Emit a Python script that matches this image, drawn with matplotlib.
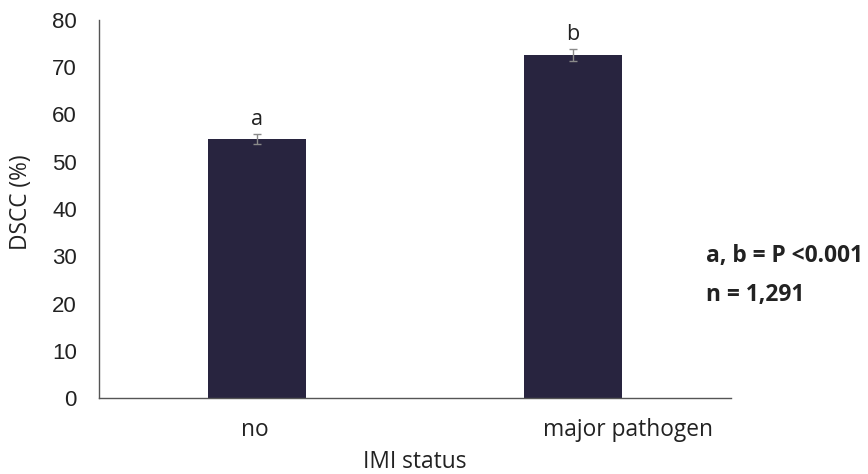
import matplotlib

matplotlib.use("Agg")

import matplotlib.pyplot as plt
import matplotlib.transforms as mtransforms

categories = ["no", "major pathogen"]
dscc = [54.8, 72.6]
dscc_err = [1.1, 1.3]
letters = ["a", "b"]
y_ticks = [0, 10, 20, 30, 40, 50, 60, 70, 80]

BAR_COLOR = "#28243f"
TEXT_COLOR = "#222222"
W, H = 868, 474
# horizontal offsets (px) of the category labels as in the original figure
LABEL_SHIFT = [-2, 55]

fig = plt.figure(figsize=(W / 100, H / 100), dpi=100)
ax = fig.add_axes([99 / W, 76 / H, 632 / W, 378 / H])

x = [i + 0.5 for i in range(len(categories))]
ax.bar(x, dscc, width=0.31, color=BAR_COLOR, zorder=2)
ax.errorbar(x, dscc, yerr=dscc_err, fmt="none", ecolor="#8a8a8a",
            elinewidth=1, capsize=3, capthick=1, zorder=3)
for xi, v, e, lab in zip(x, dscc, dscc_err, letters):
    ax.text(xi, v + e + 0.9, lab, ha="center", va="bottom",
            fontsize=15.5, family="Open Sans", color=TEXT_COLOR)

ax.set_xlim(0, len(categories))
ax.set_ylim(0, 80)
ax.set_yticks(y_ticks)
ax.set_yticklabels([str(t) for t in y_ticks], family="Liberation Sans",
                   fontsize=16, color=TEXT_COLOR)
ax.set_xticks([])
ax.tick_params(axis="both", length=0)
ax.tick_params(axis="y", pad=16)

# category labels
base = mtransforms.blended_transform_factory(ax.transData, ax.transAxes)
for xi, lab, dx in zip(x, categories, LABEL_SHIFT):
    tr = base + mtransforms.ScaledTranslation(dx / 100, 0, fig.dpi_scale_trans)
    ax.text(xi, -32 / 378, lab, transform=tr, ha="center", va="center",
            family="Open Sans", fontsize=16.4, color=TEXT_COLOR)

for side in ("top", "right"):
    ax.spines[side].set_visible(False)
for side in ("left", "bottom"):
    ax.spines[side].set_color("#555555")
    ax.spines[side].set_linewidth(1)

ax.set_ylabel("DSCC (%)", family="Open Sans", fontsize=16.4, color=TEXT_COLOR,
              va="center")
ax.yaxis.set_label_coords(-78 / 632, 196 / 378)
ax.set_xlabel("IMI status", family="Open Sans", fontsize=16.4, color=TEXT_COLOR,
              va="center")
ax.xaxis.set_label_coords(0.5, -64 / 378)

fig.text(706 / W, 1 - 256 / H, "a, b = P <0.001", family="Open Sans",
         fontweight="bold", fontsize=16.4, va="center", ha="left", color=TEXT_COLOR)
fig.text(706 / W, 1 - 295 / H, "n = 1,291", family="Open Sans",
         fontweight="bold", fontsize=16.4, va="center", ha="left", color=TEXT_COLOR)

fig.savefig("out.png", dpi=100, facecolor="white")
